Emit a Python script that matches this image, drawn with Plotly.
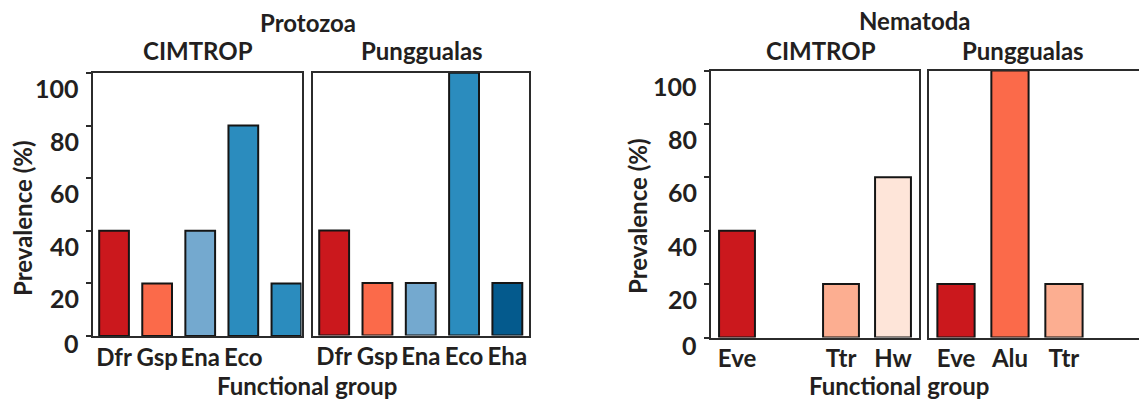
import plotly.graph_objects as go

# Prevalence (%) per functional group, by site
PROTO_CIM_GROUPS = ["Dfr", "Gsp", "Ena", "Eco", "Eha"]
PROTO_CIM_VALUES = [40, 20, 40, 80, 20]
PROTO_CIM_LABELS = ["Dfr", "Gsp", "Ena", "Eco"]

PROTO_PUN_GROUPS = ["Dfr", "Gsp", "Ena", "Eco", "Eha"]
PROTO_PUN_VALUES = [40, 20, 20, 100, 20]
PROTO_PUN_LABELS = ["Dfr", "Gsp", "Ena", "Eco", "Eha"]

NEMA_CIM_GROUPS = ["Eve", "Alu", "Ttr", "Hw"]
NEMA_CIM_VALUES = [40, None, 20, 60]
NEMA_CIM_LABELS = ["Eve", "Ttr", "Hw"]

NEMA_PUN_GROUPS = ["Eve", "Alu", "Ttr"]
NEMA_PUN_VALUES = [20, 100, 20]
NEMA_PUN_LABELS = ["Eve", "Alu", "Ttr"]

Y_TICKS = [0, 20, 40, 60, 80, 100]

GROUP_COLORS = {
    "Dfr": "#cb181d", "Gsp": "#fb6a4a", "Ena": "#74a9cf", "Eco": "#2b8cbe",
    "Eve": "#cb181d", "Alu": "#fb6a4a", "Ttr": "#fcae91", "Hw": "#fee5d9",
}
EHA_COLORS = {"CIM": "#2b8cbe", "PUN": "#045a8d"}

W, H = 1139, 400
TXT = "#231f20"
LINE = "#2b2b2b"
FONT = "Lato"
SIZE = 24


def fx(px):
    return px / W


def fy(py):
    return 1 - py / H


fig = go.Figure()

panels = [
    # (groups, values, labels, site, x-domain px, y-domain px, x-range upper)
    (PROTO_CIM_GROUPS, PROTO_CIM_VALUES, PROTO_CIM_LABELS, "CIM", (92.5, 301.5), (336, 73), 4.35),
    (PROTO_PUN_GROUPS, PROTO_PUN_VALUES, PROTO_PUN_LABELS, "PUN", (312.5, 529), (335.5, 72.7), 4.5),
    (NEMA_CIM_GROUPS, NEMA_CIM_VALUES, NEMA_CIM_LABELS, "CIM", (711, 919), (337.5, 70.5), 3.5),
    (NEMA_PUN_GROUPS, NEMA_PUN_VALUES, NEMA_PUN_LABELS, "PUN", (929, 1139), (337.5, 70.5), 3.39),
]

tick_font = dict(family=FONT, size=SIZE, color=TXT, weight="bold")

for i, (groups, values, labels, site, xd, yd, xmax) in enumerate(panels, start=1):
    colors = [EHA_COLORS[site] if g == "Eha" else GROUP_COLORS[g] for g in groups]
    sfx = "" if i == 1 else str(i)
    fig.add_trace(go.Bar(
        x=groups, y=values, marker=dict(color=colors, line=dict(color="#151515", width=2)),
        xaxis="x" + sfx, yaxis="y" + sfx, showlegend=False, width=0.69,
    ))
    is_left = site == "CIM"
    fig.update_layout(**{
        "xaxis" + sfx: dict(
            domain=[fx(xd[0]), fx(xd[1])], anchor="y" + sfx, type="category",
            categoryorder="array", categoryarray=groups, range=[-0.5, xmax],
            tickvals=labels, ticktext=labels, ticks="", tickfont=tick_font,
            showline=True, mirror=True, linecolor=LINE, linewidth=1.8,
            showgrid=False, zeroline=False, ticklabelstandoff=-1,
        ),
        "yaxis" + sfx: dict(
            domain=[fy(yd[0]), fy(yd[1])], anchor="x" + sfx, range=[0, 100],
            tickvals=Y_TICKS, showticklabels=False,
            ticks="outside" if is_left else "", ticklen=5, tickwidth=1.8, tickcolor=LINE,
            showline=True, mirror=(i != 4), linecolor=LINE, linewidth=1.8,
            showgrid=False, zeroline=False,
        ),
    })

annotations = []


def text(s, x, y, angle=0):
    annotations.append(dict(
        text=s, x=fx(x), y=fy(y), xref="paper", yref="paper", showarrow=False,
        xanchor="center", yanchor="middle", textangle=angle,
        font=dict(family=FONT, size=SIZE, color=TXT, weight="bold"),
    ))


text("Protozoa", 308, 22)
text("CIMTROP", 198, 51)
text("Punggualas", 422, 51)
text("Nematoda", 914.5, 21)
text("CIMTROP", 821, 51)
text("Punggualas", 1023, 51)
text("Functional group", 307, 385)
text("Functional group", 899, 385)
text("Prevalence (%)", 22, 218, angle=-90)
text("Prevalence (%)", 637, 216, angle=-90)

# y tick labels, set a little below each tick (the baseline label less so)
for yref, xr in (("y", 81), ("y3", 698.5)):
    for t in Y_TICKS:
        annotations.append(dict(
            text=str(t), x=fx(xr), y=t, xref="paper", yref=yref, showarrow=False,
            xanchor="right", yanchor="middle", yshift=-7 if t == 0 else -15,
            font=dict(family=FONT, size=SIZE + 1, color=TXT, weight="bold"),
        ))

fig.update_layout(
    width=W, height=H, autosize=False,
    margin=dict(l=0, r=0, t=0, b=0),
    paper_bgcolor="white", plot_bgcolor="white",
    bargap=0.31,
    annotations=annotations,
)

fig.write_html("out.html")
